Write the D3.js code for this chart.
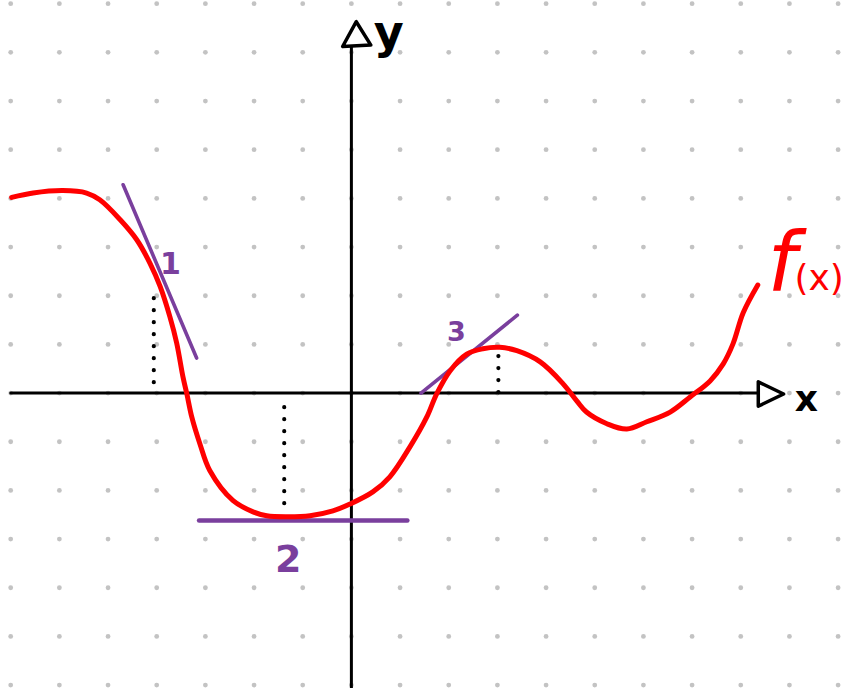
<!DOCTYPE html>
<html>
<head>
<meta charset="utf-8">
<script src="https://cdn.jsdelivr.net/npm/d3@7"></script>
<style>
  html, body { margin: 0; padding: 0; background: #fff; }
  svg { display: block; }
</style>
</head>
<body>
<svg id="chart" width="860" height="688"></svg>
<script>
// ---- data (grid units; one unit = one dot spacing) ----
const gridX = d3.range(-7, 11);          // dot columns
const gridY = d3.range(-6, 9);           // dot rows
const curveX = [-6.98,-6.54,-5.93,-5.44,-5.17,-4.75,-4.41,-4.14,-3.93,-3.73,-3.59,-3.46,-3.38,-3.28,-3.11,-2.91,-2.43,-2.02,-1.74,-1.33,-0.85,-0.38,-0.03,0.44,0.79,1.20,1.55,1.75,2.03,2.37,2.70,3.05,3.40,3.88,4.35,4.63,4.83,5.25,5.66,6.07,6.55,6.96,7.37,7.64,7.84,8.05,8.35];
const curveY = [4.02,4.11,4.16,4.11,3.97,3.56,3.15,2.67,2.19,1.57,1.03,0.33,-0.02,-0.49,-1.05,-1.59,-2.21,-2.44,-2.52,-2.54,-2.52,-2.42,-2.28,-2.03,-1.72,-1.11,-0.49,-0.02,0.46,0.80,0.91,0.94,0.87,0.64,0.19,-0.16,-0.39,-0.63,-0.74,-0.59,-0.39,-0.08,0.25,0.60,1.01,1.65,2.22];
const tangentLabels = ["1", "2", "3"];
const tangentX1 = [-4.69, -3.13, 1.43];
const tangentY1 = [4.28, -2.62, 0.00];
const tangentX2 = [-3.18, 1.15, 3.41];
const tangentY2 = [0.72, -2.62, 1.60];
const dropX = [-4.06, -1.38, 3.02];
const dropTop = [1.95, -0.29, 0.76];
const dropBottom = [0.19, -2.50, 0.01];
const axisLabels = ["x", "y"];
const curveLabel = "f(x)";

// ---- scales ----
const svg = d3.select("#chart");
const x = d3.scaleLinear().domain([-7, 10]).range([10.7, 838.1]);
const y = d3.scaleLinear().domain([8, -6]).range([3.7, 685.1]);

const purple = "#7a3f9d";
const red = "#ff0000";

// dot grid
const dots = [];
gridY.forEach(gy => gridX.forEach(gx => dots.push([gx, gy])));
svg.append("g").selectAll("circle").data(dots).join("circle")
  .attr("cx", d => x(d[0])).attr("cy", d => y(d[1]))
  .attr("r", 2.4).attr("fill", "#c3c3c3");

// axes
const axes = svg.append("g").attr("stroke", "#000").attr("fill", "none")
  .attr("stroke-linecap", "round").attr("stroke-linejoin", "round");
axes.append("line").attr("x1", x(-7)).attr("x2", x(8.36))
  .attr("y1", y(0)).attr("y2", y(0)).attr("stroke-width", 3);
axes.append("line").attr("x1", x(0)).attr("x2", x(0))
  .attr("y1", y(-6.2)).attr("y2", y(7.12)).attr("stroke-width", 3);
// arrowheads (open triangles)
axes.append("path").attr("stroke-width", 3.5).attr("fill", "#fff")
  .attr("d", `M${x(8.36)},${y(0.23)} L${x(8.36)},${y(-0.27)} L${x(8.88)},${y(-0.02)} Z`);
axes.append("path").attr("stroke-width", 3.5).attr("fill", "#fff")
  .attr("d", `M${x(-0.18)},${y(7.12)} L${x(0.40)},${y(7.15)} L${x(0.10)},${y(7.63)} Z`);

// axis labels
svg.append("text").text(axisLabels[0])
  .attr("x", x(9.35)).attr("y", y(-0.36))
  .attr("font-family", "DejaVu Sans").attr("font-weight", "bold")
  .attr("font-size", 36).attr("text-anchor", "middle").attr("fill", "#000");
svg.append("text").text(axisLabels[1])
  .attr("x", x(0.77)).attr("y", y(7.08))
  .attr("font-family", "DejaVu Sans").attr("font-weight", "bold")
  .attr("font-size", 46).attr("text-anchor", "middle").attr("fill", "#000");

// dotted drop lines
svg.append("g").selectAll("line").data(dropX).join("line")
  .attr("x1", d => x(d)).attr("x2", d => x(d))
  .attr("y1", (d, i) => y(dropTop[i])).attr("y2", (d, i) => y(dropBottom[i]))
  .attr("stroke", "#000").attr("stroke-width", 4.2)
  .attr("stroke-linecap", "round").attr("stroke-dasharray", "0 12");

// tangent lines
svg.append("g").selectAll("line").data(tangentX1).join("line")
  .attr("x1", d => x(d)).attr("y1", (d, i) => y(tangentY1[i]))
  .attr("x2", (d, i) => x(tangentX2[i])).attr("y2", (d, i) => y(tangentY2[i]))
  .attr("stroke", purple).attr("stroke-width", (d, i) => i === 1 ? 4.5 : 3.6)
  .attr("stroke-linecap", "round");

// curve
const pts = curveX.map((d, i) => [d, curveY[i]]);
svg.append("path").datum(pts)
  .attr("d", d3.line().x(d => x(d[0])).y(d => y(d[1])).curve(d3.curveCatmullRom.alpha(0.5)))
  .attr("fill", "none").attr("stroke", red).attr("stroke-width", 5)
  .attr("stroke-linecap", "round").attr("stroke-linejoin", "round");

// tangent labels
const labelPos = [[-3.72, 2.45, 30], [-1.3, -3.67, 38], [2.16, 1.06, 27]];
svg.append("g").selectAll("text").data(tangentLabels).join("text")
  .text(d => d)
  .attr("x", (d, i) => x(labelPos[i][0])).attr("y", (d, i) => y(labelPos[i][1]))
  .attr("font-size", (d, i) => labelPos[i][2])
  .attr("font-family", "DejaVu Sans").attr("font-weight", "bold")
  .attr("text-anchor", "middle").attr("fill", purple);

// f(x) label
const fl = svg.append("text").attr("x", x(8.55)).attr("y", y(2.12))
  .attr("font-family", "DejaVu Sans").attr("fill", red);
fl.append("tspan").text(curveLabel.slice(0, 1)).attr("font-size", 82)
  .attr("font-style", "italic");
fl.append("tspan").text(curveLabel.slice(1)).attr("font-size", 36).attr("dx", -2);
</script>
</body>
</html>
